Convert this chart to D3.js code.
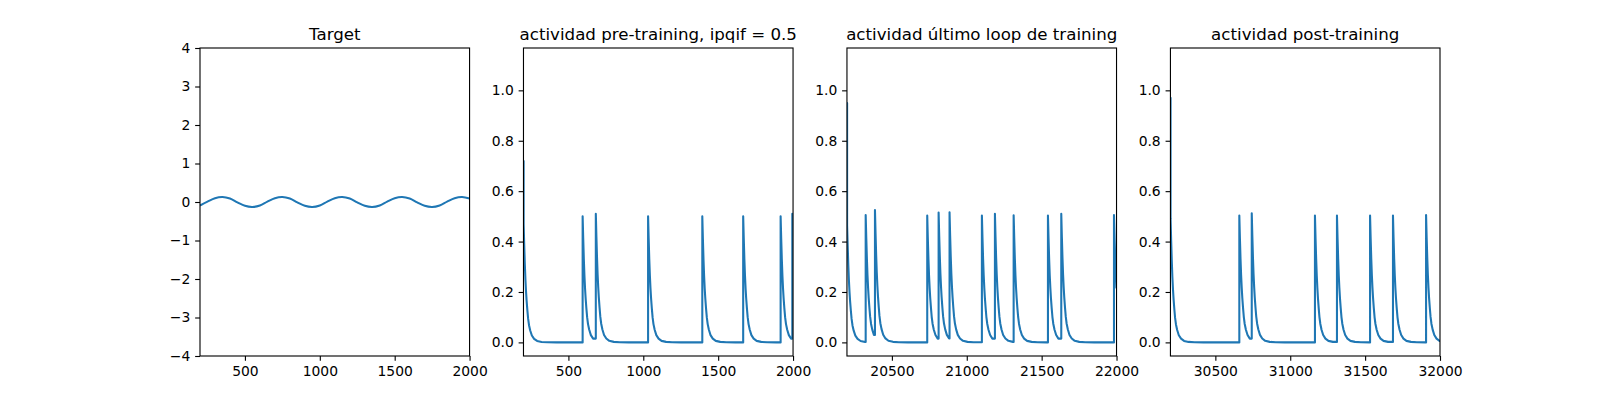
<!DOCTYPE html>
<html>
<head>
<meta charset="utf-8">
<script src="https://cdn.jsdelivr.net/npm/d3@7"></script>
<style>
  body { margin: 0; background: #fff; }
  text { font-family: "DejaVu Sans", sans-serif; fill: #000; }
</style>
</head>
<body>
<div id="chart"></div>
<script>
/* Target + actividad panels */

// ---- data ----
var titles = ["Target", "actividad pre-training, ipqif = 0.5", "actividad último loop de training", "actividad post-training"];

// target wave, sampled every 50 time units from 200 to 2000
var targetTime = d3.range(200, 2001, 50);
var targetValue = [-0.09, 0.01, 0.10, 0.13, 0.09, -0.01, -0.10, -0.13,
                   -0.09, 0.01, 0.10, 0.13, 0.09, -0.01, -0.10, -0.13,
                   -0.09, 0.01, 0.10, 0.13, 0.09, -0.01, -0.10, -0.13,
                   -0.09, 0.01, 0.10, 0.13, 0.09, -0.01, -0.10, -0.13,
                   -0.09, 0.01, 0.10, 0.13, 0.09];

// decay shape after a spike: time since spike, fraction of the peak
var decayDt   = [0, 4, 8, 12, 16, 20, 25, 30, 36, 44, 55, 70, 90, 120, 160, 220];
var decayFrac = [1, 0.82, 0.66, 0.53, 0.43, 0.35, 0.27, 0.2, 0.145, 0.1, 0.058, 0.03, 0.012, 0.004, 0.001, 0];

// activity traces: first value, spike times, spike peaks
var preStart = 0.72;
var preSpikeTime = [201, 595, 683, 1032, 1394, 1667, 1917, 1995];
var preSpikePeak = [0.47, 0.50, 0.51, 0.50, 0.50, 0.50, 0.50, 0.51];

var lastStart = 0.95;
var lastSpikeTime = [20201, 20325, 20387, 20736, 20812, 20885, 21101, 21188, 21313, 21542, 21631, 21983];
var lastSpikePeak = [0.465, 0.505, 0.525, 0.503, 0.515, 0.516, 0.503, 0.51, 0.504, 0.503, 0.51, 0.505];

var postStart = 0.97;
var postSpikeTime = [30201, 30660, 30743, 31165, 31312, 31533, 31686, 31907];
var postSpikePeak = [0.49, 0.503, 0.512, 0.503, 0.503, 0.503, 0.503, 0.505];

var xDomains = [[200, 2000], [200, 2000], [20200, 22000], [30200, 32000]];
var xTicks = [[500, 1000, 1500, 2000], [500, 1000, 1500, 2000],
              [20500, 21000, 21500, 22000], [30500, 31000, 31500, 32000]];
var yDomainTarget = [-4, 4];
var yTicksTarget = [-4, -3, -2, -1, 0, 1, 2, 3, 4];
var yDomainAct = [-0.054, 1.168];
var yTicksAct = [0, 0.2, 0.4, 0.6, 0.8, 1.0];

// build [t, v] points for a spike trace
function buildTrace(t0, t1, start, times, peaks) {
    var pts = [[t0, start]];
    var prev = start;
    times.forEach(function(ts, i) {
        var next = i < times.length - 1 ? times[i + 1] : t1;
        pts.push([ts, prev]);
        for (var k = 0; k < decayDt.length; k++) {
            var t = ts + decayDt[k];
            if (t >= next) break;
            prev = peaks[i] * decayFrac[k];
            pts.push([t, prev]);
        }
    });
    pts.push([t1, prev]);
    return pts;
}

var traces = [
    targetTime.map(function(t, i) { return [t, targetValue[i]]; }),
    buildTrace(200, 2000, preStart, preSpikeTime, preSpikePeak),
    buildTrace(20200, 22000, lastStart, lastSpikeTime, lastSpikePeak),
    buildTrace(30200, 32000, postStart, postSpikeTime, postSpikePeak)
];

// ---- layout (matplotlib 16x4 figure, 1x4 subplots) ----
var W = 1600, H = 400;
var axW = 269.57, axH = 308, axTop = 48;
var axLeft = [200, 523.48, 846.96, 1170.43];
var fs = 13.89;

var svg = d3.select("#chart").append("svg")
    .attr("width", W).attr("height", H);
svg.append("rect").attr("width", W).attr("height", H).attr("fill", "#fff");

traces.forEach(function(data, p) {
    var g = svg.append("g")
        .attr("transform", "translate(" + axLeft[p] + "," + axTop + ")");

    var x = d3.scaleLinear().domain(xDomains[p]).range([0, axW]);
    var y = d3.scaleLinear().domain(p === 0 ? yDomainTarget : yDomainAct).range([axH, 0]);

    g.append("clipPath").attr("id", "clip" + p)
        .append("rect").attr("width", axW).attr("height", axH);

    var line = d3.line()
        .x(function(d) { return x(d[0]); })
        .y(function(d) { return y(d[1]); });
    if (p === 0) line.curve(d3.curveCatmullRom);

    g.append("path")
        .datum(data)
        .attr("clip-path", "url(#clip" + p + ")")
        .attr("fill", "none")
        .attr("stroke", "#1f77b4")
        .attr("stroke-width", 2.08)
        .attr("stroke-linejoin", "round")
        .attr("d", line);

    // axes
    var xa = g.append("g")
        .attr("transform", "translate(0," + axH + ")")
        .call(d3.axisBottom(x).tickValues(xTicks[p]).tickFormat(d3.format("d"))
            .tickSize(4.86).tickPadding(4.86));
    var ya = g.append("g")
        .call(d3.axisLeft(y).tickValues(p === 0 ? yTicksTarget : yTicksAct)
            .tickFormat(p === 0 ? d3.format("d") : d3.format(".1f"))
            .tickSize(4.86).tickPadding(4.86));
    [xa, ya].forEach(function(a) {
        a.select(".domain").remove();
        a.selectAll(".tick line").attr("stroke", "#000").attr("stroke-width", 1.11);
        a.selectAll("text").attr("font-size", fs).attr("font-family", "DejaVu Sans").attr("fill", "#000");
    });

    // frame
    g.append("rect")
        .attr("width", axW).attr("height", axH)
        .attr("fill", "none").attr("stroke", "#000").attr("stroke-width", 1.11);

    g.append("text")
        .attr("x", axW / 2).attr("y", -8.3)
        .attr("text-anchor", "middle")
        .attr("font-size", 16.67)
        .text(titles[p]);
});
</script>
</body>
</html>
